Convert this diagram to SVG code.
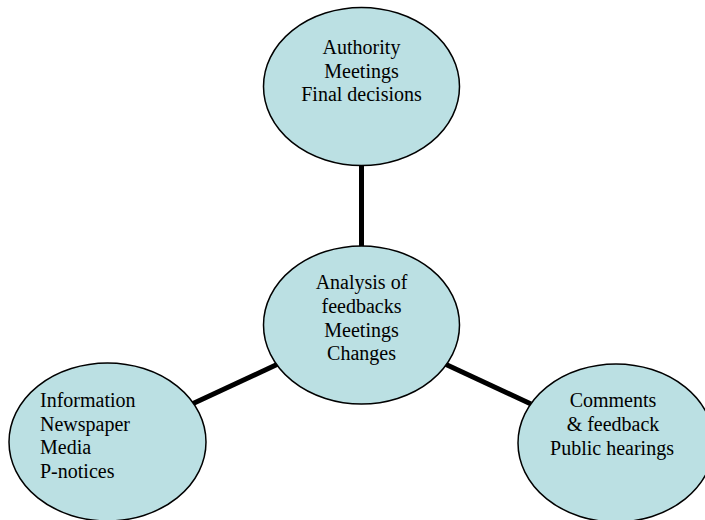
<svg xmlns="http://www.w3.org/2000/svg" width="705" height="520" viewBox="0 0 705 520">
<style>
.node ellipse{fill:#bbe0e3;stroke:#000;stroke-width:1.5}
text{font-family:"Liberation Serif","Times New Roman",serif;font-size:20px;fill:#000}
.c{text-anchor:middle}
.conn line{stroke:#000;stroke-width:5}
</style>
<rect width="705" height="520" fill="#fff"/>
<g id="connectors" class="conn">
<line x1="361.5" y1="164" x2="361.5" y2="247"/>
<line x1="192" y1="404" x2="278" y2="364"/>
<line x1="445" y1="364" x2="531" y2="404"/>
</g>
<g id="authority" class="node">
<ellipse cx="361.5" cy="86.5" rx="98" ry="79"/>
<text class="c" x="361.5" y="54">Authority</text>
<text class="c" x="361.5" y="77.5">Meetings</text>
<text class="c" x="361.5" y="101">Final decisions</text>
</g>
<g id="analysis" class="node">
<ellipse cx="361.5" cy="325" rx="98" ry="79"/>
<text class="c" x="361.5" y="289">Analysis of</text>
<text class="c" x="361.5" y="313">feedbacks</text>
<text class="c" x="361.5" y="336.5">Meetings</text>
<text class="c" x="361.5" y="360">Changes</text>
</g>
<g id="information" class="node">
<ellipse cx="107.5" cy="442" rx="98.5" ry="79"/>
<text x="40" y="407">Information</text>
<text x="40" y="430.5">Newspaper</text>
<text x="40" y="454">Media</text>
<text x="40" y="478">P-notices</text>
</g>
<g id="comments" class="node">
<ellipse cx="616" cy="443" rx="98" ry="79"/>
<text class="c" x="613" y="407">Comments</text>
<text class="c" x="613" y="431">&amp; feedback</text>
<text class="c" x="612" y="455">Public hearings</text>
</g>
</svg>
